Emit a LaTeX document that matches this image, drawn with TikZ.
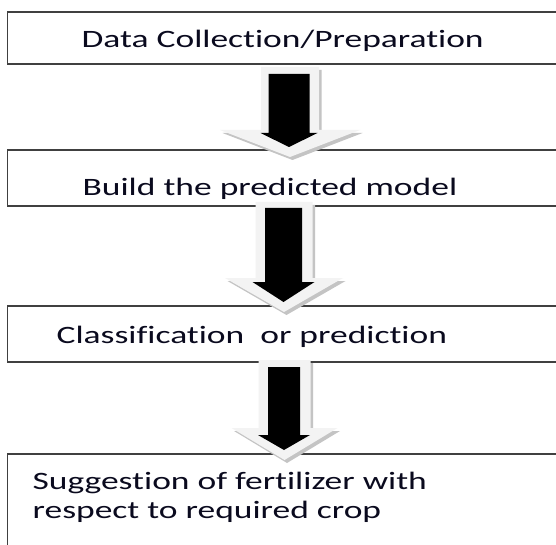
\documentclass[tikz,border=0pt]{standalone}
\usepackage{fontspec}
\newfontfamily\boxfont[FakeStretch=1.42, RawFeature={-liga;-clig;-calt;-dlig}]{Carlito}
\definecolor{boxline}{HTML}{404040}
\definecolor{arrowlight}{HTML}{F3F3F3}
\definecolor{arrowshade}{HTML}{C4C4C4}
\definecolor{boxtext}{HTML}{0A0A1E}
% block arrow: style, centre x, top y, head base y, tip y, shaft half width, head half width
\newcommand{\blockarrow}[7]{%
  \fill[#1] ({#2-#6},#3) -- ({#2+#6},#3) -- ({#2+#6},#4) -- ({#2+#7},#4)
    -- (#2,#5) -- ({#2-#7},#4) -- ({#2-#6},#4) -- cycle;}
% a light arrow with a soft shadow, and a black arrow in front of it
\newcommand{\flowarrow}[2]{%
  \blockarrow{arrowshade, shift={(2.5,3)}}#1%
  \blockarrow{arrowlight}#1%
  \blockarrow{black}#2}
\begin{document}
\begin{tikzpicture}[x=1pt, y=-1pt,
  stepbox/.style={draw=boxline, line width=1.3pt, fill=white,
    inner xsep=0pt, inner ysep=0pt, anchor=base west, text=boxtext,
    font=\boxfont\fontsize{25}{29}\selectfont}]
\clip (0,0) rectangle (556,545);
\fill[white] (0,0) rectangle (556,545);

% the four steps; each box runs past the right edge
\node[stepbox, text height=36pt, text depth=16pt] (b1) at (7,48)
  {\parbox[t]{600pt}{\hspace*{74pt}Data Collection/Preparation}};
\node[stepbox, text height=46pt, text depth=10pt] (b2) at (7,196)
  {\parbox[t]{600pt}{\hspace*{75pt}Build the predicted model}};
\node[stepbox, text height=37pt, text depth=19pt] (b3) at (7,343)
  {\parbox[t]{600pt}{\hspace*{49pt}Classification\ \ or prediction}};
\node[stepbox, text height=35pt, text depth=59pt] (b4) at (7,489)
  {\parbox[t]{600pt}{\raggedright\leftskip=25pt\relax
    Suggestion of fertilizer with\\respect to required crop}};

% arrows between the steps
\flowarrow{{290}{67}{130}{157}{29}{70}}{{289}{74}{133}{147}{20.5}{28.5}}
\flowarrow{{284}{202}{278}{312}{28.5}{59}}{{283.5}{208}{282}{302}{18.5}{31}}
\flowarrow{{284.5}{360}{428}{460}{26}{53}}{{284}{367}{435}{450}{16}{26}}
\end{tikzpicture}
\end{document}
